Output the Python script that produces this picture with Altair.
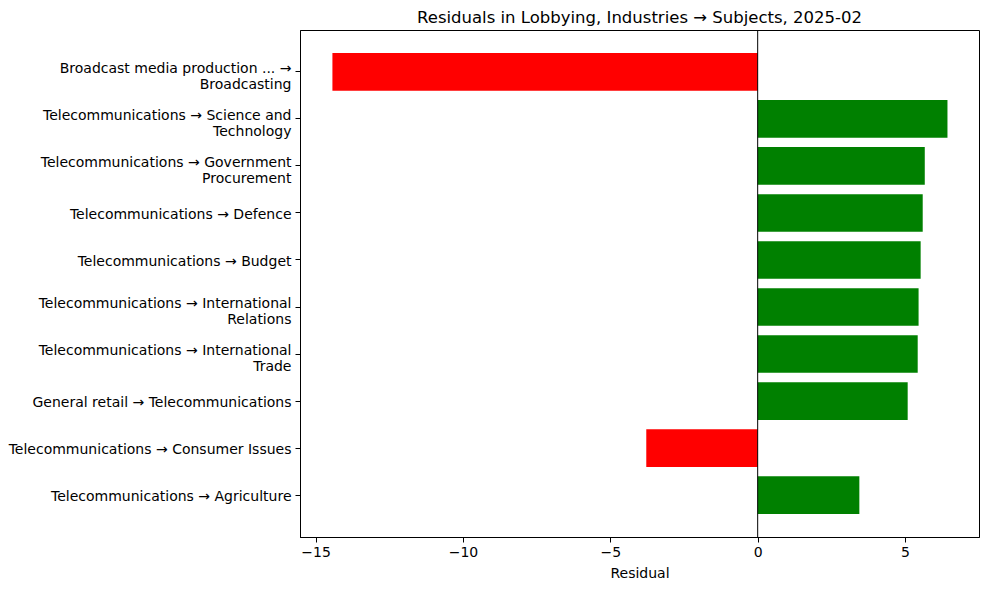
import altair as alt
import pandas as pd

labels = [
    "Broadcast media production ... →\nBroadcasting",
    "Telecommunications → Science and\nTechnology",
    "Telecommunications → Government\nProcurement",
    "Telecommunications → Defence",
    "Telecommunications → Budget",
    "Telecommunications → International\nRelations",
    "Telecommunications → International\nTrade",
    "General retail → Telecommunications",
    "Telecommunications → Consumer Issues",
    "Telecommunications → Agriculture",
]
residuals = [-14.43, 6.44, 5.67, 5.60, 5.53, 5.46, 5.43, 5.09, -3.78, 3.45]
x_ticks = [-15, -10, -5, 0, 5]

df = pd.DataFrame({"label": labels, "residual": residuals})
df["sign"] = ["neg" if v < 0 else "pos" for v in residuals]
zero = pd.DataFrame({"z": [0]})

FONT = "DejaVu Sans"

bars = alt.Chart(df).mark_bar().encode(
    y=alt.Y("label:N", sort=labels,
            scale=alt.Scale(paddingInner=0.2, paddingOuter=0.49),
            axis=alt.Axis(title=None, labelExpr="split(datum.label, '\\n')",
                          labelFontSize=14, labelColor="black", labelFont=FONT,
                          labelLimit=400, tickSize=5, tickColor="black",
                          domainColor="black", labelPadding=4, labelLineHeight=16,
                          labelOffset={"condition": {"test": "indexof(datum.label, '\\n') >= 0",
                                                     "value": -3}, "value": 2})),
    x=alt.X("residual:Q",
            scale=alt.Scale(domain=[-15.53, 7.51], nice=False, zero=False),
            axis=alt.Axis(title="Residual", values=x_ticks, format="d", grid=False,
                          labelFontSize=14, labelColor="black", labelFont=FONT,
                          titleFontSize=14, titleFontWeight="normal", titleColor="black",
                          titleFont=FONT, titlePadding=7,
                          tickSize=5, tickColor="black", domainColor="black", labelPadding=3)),
    color=alt.Color("sign:N", scale=alt.Scale(domain=["neg", "pos"], range=["#ff0000", "#008000"]),
                    legend=None),
)

rule = alt.Chart(zero).mark_rule(color="black", strokeWidth=1).encode(x="z:Q")

chart = alt.layer(bars, rule).properties(
    width=679, height=507,
    title=alt.TitleParams("Residuals in Lobbying, Industries → Subjects, 2025-02",
                          fontSize=16.5, fontWeight="normal", font=FONT, color="black",
                          anchor="middle", offset=3),
    autosize=alt.AutoSizeParams(type="none"),
    padding={"left": 292, "top": 22, "right": 1, "bottom": 45},
).configure_view(stroke="black", strokeWidth=1).configure_axis(grid=False)

chart.save("out.html", embed_options={"renderer": "svg", "actions": False})
